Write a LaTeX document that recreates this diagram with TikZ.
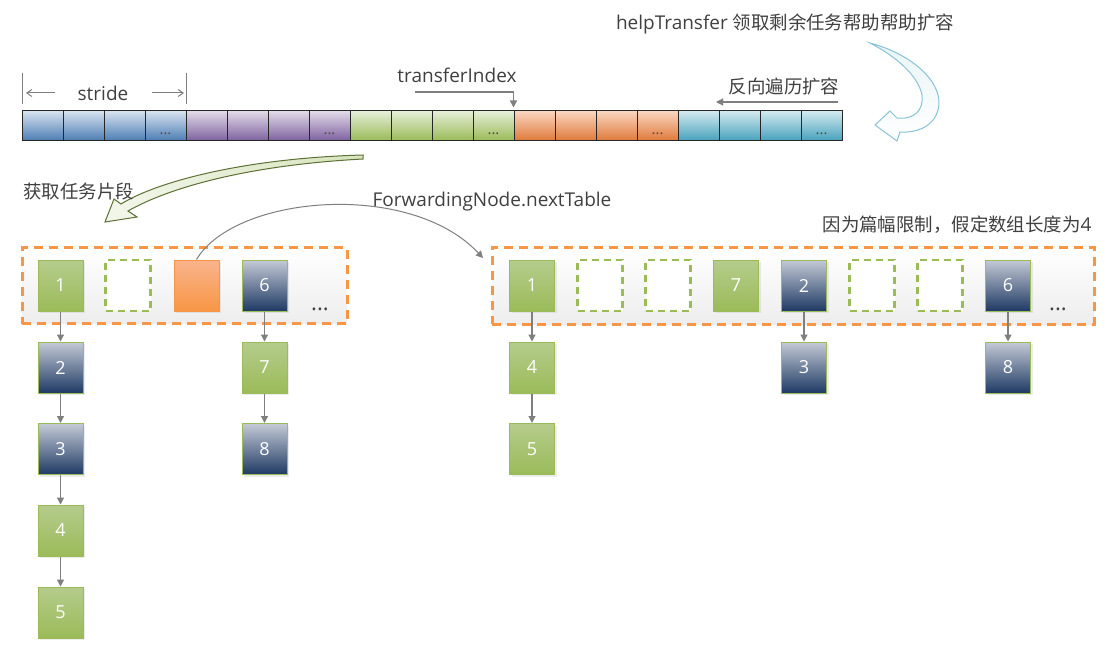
\documentclass[tikz,border=0pt]{standalone}
\usepackage{fontspec}
\setmainfont{Open Sans}
\newfontfamily\cjk{Noto Sans CJK SC}[Scale=0.97]
\usetikzlibrary{arrows.meta,shadows}
\definecolor{txt}{HTML}{404040}
\definecolor{aT}{HTML}{D7E2EF}\definecolor{aB}{HTML}{4F7FB5}
\definecolor{bT}{HTML}{E2DAE9}\definecolor{bB}{HTML}{7F64A0}
\definecolor{cT}{HTML}{E6EFD9}\definecolor{cB}{HTML}{9BBB59}
\definecolor{dT}{HTML}{FAD6C0}\definecolor{dB}{HTML}{E07B3C}
\definecolor{eT}{HTML}{D3E9EF}\definecolor{eB}{HTML}{4AA3BD}
\definecolor{grnT}{HTML}{B5CC8C}\definecolor{grnB}{HTML}{9BBB59}
\definecolor{navT}{HTML}{C4CAD6}\definecolor{navB}{HTML}{1F3A64}
\definecolor{orT}{HTML}{F9B48C}\definecolor{orB}{HTML}{F79646}
\definecolor{gline}{HTML}{7F7F7F}
\begin{document}
\begin{tikzpicture}[x=1pt,y=-1pt,font=\fontsize{19}{22}\selectfont,text=txt,
  cell/.style={draw=black!85,line width=1,minimum width=41,minimum height=29,inner sep=0},
  celldots/.style={font=\fontsize{15}{15}\selectfont,text=black!70,inner sep=0},
  bx/.style={minimum width=45,minimum height=51,inner sep=0,text=white,line width=1,
    font=\fontsize{18}{18}\selectfont,drop shadow={shadow xshift=2pt,shadow yshift=-2pt,opacity=0.15}},
  gbox/.style={bx,top color=grnT,bottom color=grnB,draw=grnB},
  nbox/.style={bx,top color=navT,bottom color=navB,draw=grnB},
  obox/.style={bx,top color=orT,bottom color=orB,draw=orB},
  ebox/.style={minimum width=45,minimum height=51,inner sep=0,draw=grnB,fill=white,
    line width=2.5,dash pattern=on 7pt off 5pt},
  cont/.style={draw=orB,line width=3,dash pattern=on 9pt off 6pt,top color=white,bottom color=black!7,
    inner sep=0},
  link/.style={draw=gline,line width=1.2,-{Triangle[length=7pt,width=7pt]}},
  thinarr/.style={draw=gline,line width=1,-{Straight Barb[length=5pt,width=7pt]}},
  bigdots/.style={font=\fontsize{22}{22}\selectfont,text=black!75,inner sep=0}
]
\useasboundingbox[fill=white] (0,0) rectangle (1113,650);

% header text
\node (help) at (785,24) {helpTransfer {\cjk 领取剩余任务帮助帮助扩容}};

% array
\foreach \g/\ct/\cb in {0/aT/aB,1/bT/bB,2/cT/cB,3/dT/dB,4/eT/eB}{
  \foreach \j in {0,1,2,3}{
    \node[cell,top color=\ct,bottom color=\cb] (c\g\j) at ({22+41*(4*\g+\j)+20.5},125.5) {};
  }
  \node[celldots,anchor=base] (d\g) at ({22+41*(4*\g+3)+20.5},135) {...};
}

% stride
\coordinate (s1t) at (22,73); \coordinate (s1b) at (22,104);
\coordinate (s2t) at (186,73); \coordinate (s2b) at (186,104);
\draw[gline,line width=0.8] (s1t) -- (s1b) (s2t) -- (s2b);
\node (stride) at (103,93) {stride};
\coordinate (sa1) at (55,93); \coordinate (sa1e) at (26,93);
\coordinate (sa2) at (152,93); \coordinate (sa2e) at (184,93);
\draw[thinarr] (sa1) -- (sa1e);
\draw[thinarr] (sa2) -- (sa2e);

% transferIndex
\node (ti) at (457,75) {transferIndex};
\coordinate (tiA) at (415,92);
\draw[gline,line width=1.2,-{Triangle[length=7pt,width=7pt]}] (tiA) -| ([yshift=3pt]c30.north west);

% reverse
\node (rev) at (784,86) {\cjk 反向遍历扩容};
\coordinate (rvA) at (838,102); \coordinate (rvB) at (716,102);
\draw[gline,line width=1.2,-{Triangle[length=7pt,width=7pt]}] (rvA) -- (rvB);

% help arrow (blue hollow)
\path[draw=eB!65,line width=1,top color=eT!50,bottom color=white]
 (870,43) .. controls (915,55) and (945,85) .. (938,110)
 .. controls (933,128) and (915,133) .. (900,132) -- (897,141) -- (875,125) -- (890,111) -- (897,118)
 .. controls (914,120) and (924,110) .. (922,95)
 .. controls (918,75) and (895,56) .. (870,43) -- cycle;

% green hollow arrow
\path[draw=grnB!60!black,line width=1,left color=grnB!12,right color=grnB!40]
 (363,155) .. controls (250,158) and (160,180) .. (121,204) -- (114,199) -- (105,222) -- (137,217) -- (128,211)
 .. controls (170,187) and (250,165) .. (363,159) -- cycle;

\node[anchor=west] (get) at (20,191) {\cjk 获取任务片段};

% containers
\node[cont,minimum width=325,minimum height=76] (L) at (184.5,285.5) {};
\node[cont,minimum width=602,minimum height=77] (R) at (793,285.5) {};

% left row
\node[gbox] (L1) at (60.5,285.5) {1};
\node[ebox] (Le) at (128,285.5) {};
\node[obox] (Lo) at (196.5,285.5) {};
\node[nbox] (L6) at (264.5,285.5) {6};
\node[bigdots,anchor=base] (Ld) at (320,310) {...};
\node[nbox] (L2) at (60.5,367.5) {2};
\node[nbox] (L3) at (60.5,449) {3};
\node[gbox] (L4) at (60.5,530.5) {4};
\node[gbox] (L5) at (60.5,612.5) {5};
\node[gbox] (L7) at (264.5,367.5) {7};
\node[nbox] (L8) at (264.5,449) {8};
\draw[link] (L1) -- (L2);
\draw[link] (L2) -- (L3);
\draw[link] (L3) -- (L4);
\draw[link] (L4) -- (L5);
\draw[link] (L6) -- (L7);
\draw[link] (L7) -- (L8);

% right row
\node[gbox] (R1) at (532,285.5) {1};
\node[ebox] (Re1) at (600,285.5) {};
\node[ebox] (Re2) at (668,285.5) {};
\node[gbox] (R7) at (736,285.5) {7};
\node[nbox] (R2) at (804,285.5) {2};
\node[ebox] (Re3) at (872,285.5) {};
\node[ebox] (Re4) at (940,285.5) {};
\node[nbox] (R6) at (1008,285.5) {6};
\node[bigdots,anchor=base] (Rd) at (1058,310) {...};
\node[gbox] (R4) at (532,367.5) {4};
\node[gbox] (R5) at (532,449) {5};
\node[nbox] (R3) at (804,367.5) {3};
\node[nbox] (R8) at (1008,367.5) {8};
\draw[link] (R1) -- (R4);
\draw[link] (R4) -- (R5);
\draw[link] (R2) -- (R3);
\draw[link] (R6) -- (R8);

% labels
\node (fwd) at (492,202) {ForwardingNode.nextTable};
\node[anchor=east] (lim) at (1095,225) {{\cjk 因为篇幅限制，假定数组长度为}4};

% forwarding curve
\coordinate (fwdEnd) at (483,258);
\draw[gline,line width=1,-{Triangle[length=7pt,width=7pt]}] (Lo.north) .. controls (235,195) and (410,180) .. (fwdEnd);
\end{tikzpicture}
\end{document}
